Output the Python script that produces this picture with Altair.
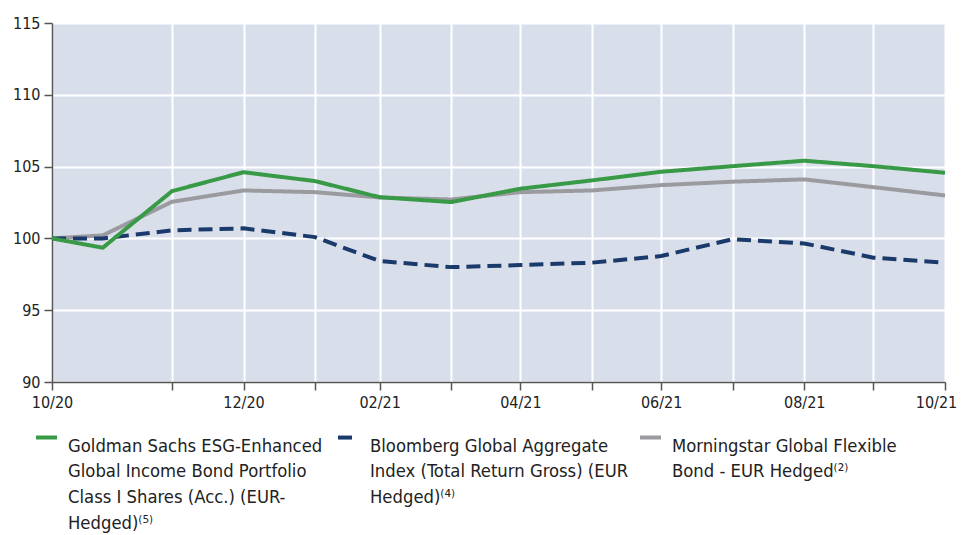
import altair as alt
import pandas as pd

dates = ["2020-10-09T00:00:00", "2020-10-31T00:00:00", "2020-11-30T00:00:00", "2020-12-31T00:00:00",
         "2021-01-31T00:00:00", "2021-02-28T00:00:00", "2021-03-31T00:00:00", "2021-04-30T00:00:00",
         "2021-05-31T00:00:00", "2021-06-30T00:00:00", "2021-07-31T00:00:00", "2021-08-31T00:00:00",
         "2021-09-30T00:00:00", "2021-10-31T00:00:00"]
gs = [100, 99.35, 103.29, 104.61, 103.99, 102.87, 102.53, 103.46, 104.04, 104.64, 105.03, 105.41, 105.03, 104.57]
bb = [100, 100.0, 100.56, 100.70, 100.09, 98.42, 98.00, 98.14, 98.31, 98.77, 99.95, 99.65, 98.66, 98.31]
ms = [100, 100.21, 102.55, 103.34, 103.22, 102.85, 102.71, 103.22, 103.34, 103.71, 103.95, 104.11, 103.57, 102.99]

names = [
    "Goldman Sachs ESG-Enhanced|Global Income Bond Portfolio|Class I Shares (Acc.) (EUR-|Hedged)⁽⁵⁾",
    "Bloomberg Global Aggregate|Index (Total Return Gross) (EUR|Hedged)⁽⁴⁾",
    "Morningstar Global Flexible|Bond - EUR Hedged⁽²⁾",
]
colors = ["#389a46", "#1b3a6c", "#9b9b9f"]
dashes = [[1, 0], [14, 7], [1, 0]]

rows = []
for name, vals in [(names[2], ms), (names[1], bb), (names[0], gs)]:
    for d, v in zip(dates, vals):
        rows.append({"date": d, "value": v, "series": name})
df = pd.DataFrame(rows)

tick_values = [alt.DateTime(year=2020, month=10, date=9)] + [
    alt.DateTime(year=y, month=m, date=d) for (y, m, d) in [
        (2020, 11, 30), (2020, 12, 31), (2021, 1, 31), (2021, 2, 28), (2021, 3, 31), (2021, 4, 30),
        (2021, 5, 31), (2021, 6, 30), (2021, 7, 31), (2021, 8, 31), (2021, 9, 30), (2021, 10, 31)]
]

FONT = "Liberation Sans Narrow, DejaVu Sans Condensed, Roboto Condensed, Roboto, sans-serif"

legend = alt.Legend(title=None, orient="none", legendX=-18, legendY=402,
                    columns=3, columnPadding=3, rowPadding=0, gridAlign="all",
                    symbolType="stroke", symbolSize=441, symbolStrokeWidth=4,
                    labelExpr="slice(split(datum.label + '| | | ', '|'), 0, 4)", labelBaseline="top",
                    labelOffset=9, labelLimit=500, labelFont=FONT,
                    labelFontSize=18.3, labelColor="#222222", padding=0)

base = alt.Chart(df).mark_line(strokeWidth=4, strokeCap="butt", strokeJoin="miter").encode(
    x=alt.X("date:T",
            scale=alt.Scale(domain=[alt.DateTime(year=2020, month=10, date=9),
                                    alt.DateTime(year=2021, month=10, date=31)], nice=False),
            axis=alt.Axis(title=None, values=tick_values,
                          labelExpr="month(datum.value) % 2 == 1 ? timeFormat(datum.value, '%m/%y') : ''",
                          labelOffset={"condition": {"test": "datum.value >= datetime(2021, 9, 30)", "value": -9},
                                       "value": 0},
                          labelPadding=4, labelOverlap=False, labelFlush=False)),
    y=alt.Y("value:Q", scale=alt.Scale(domain=[90, 115], nice=False, zero=False),
            axis=alt.Axis(title=None, values=[90, 95, 100, 105, 110, 115], labelPadding=4)),
    color=alt.Color("series:N", scale=alt.Scale(domain=names, range=colors), legend=legend),
    strokeDash=alt.StrokeDash("series:N", scale=alt.Scale(domain=names, range=dashes), legend=legend),
).properties(
    width=893, height=359,
    autosize=alt.AutoSizeParams(type="none"),
    padding={"left": 44, "top": 15, "right": 12, "bottom": 152},
)

chart = base.configure(
    style={"guide-label": {"lineHeight": 25.7, "font": FONT}}
).configure_view(
    fill="#d9dfea", strokeWidth=0
).configure_axis(
    gridColor="#ffffff", gridWidth=2, gridOpacity=1,
    domainColor="#555555", domainWidth=1.5,
    tickColor="#555555", tickSize=8, tickWidth=1.5,
    labelFont=FONT, labelFontSize=16, labelColor="#222222",
)

chart.save("out.html", embed_options={"renderer": "svg", "actions": False})
